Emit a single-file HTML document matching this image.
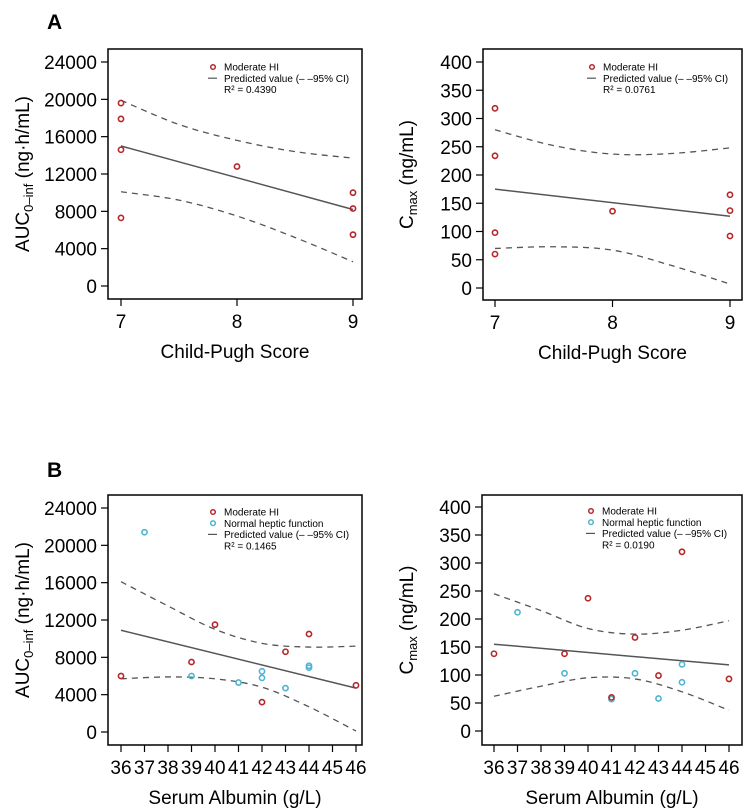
<!DOCTYPE html>
<html><head><meta charset="utf-8"><style>
html,body{margin:0;padding:0;background:#fff;}
svg{display:block;font-family:"Liberation Sans",Arial,sans-serif;}
</style></head><body>
<svg id="fig" width="745" height="808" viewBox="0 0 745 808" xmlns="http://www.w3.org/2000/svg">
<text x="47" y="29" font-size="21" font-weight="bold">A</text>
<text x="47" y="477" font-size="21" font-weight="bold">B</text>
</svg>
<script>
// Panel A-left: AUC vs Child-Pugh
const aLeftModX=[7,7,7,7,8,9,9,9];
const aLeftModY=[19600,17900,14600,7300,12800,10000,8300,5500];
const aLeftFitX=[7,9];
const aLeftFitY=[15000,8200];
const aLeftCiX=[7,7.5,8,8.5,9];
const aLeftCiUp=[19900,17300,15600,14400,13700];
const aLeftCiLo=[10100,9200,7500,5200,2600];
// Panel A-right: Cmax vs Child-Pugh
const aRightModX=[7,7,7,7,8,9,9,9];
const aRightModY=[318,234,98,60,136,165,137,92];
const aRightFitX=[7,9];
const aRightFitY=[175,127];
const aRightCiX=[7,7.5,8,8.5,9];
const aRightCiUp=[280,252,237,238,248];
const aRightCiLo=[70,73,67,40,7];
// Panel B-left: AUC vs Albumin
const bLeftModX=[36,39,40,42,43,44,46];
const bLeftModY=[6000,7500,11500,3200,8600,10500,5000];
const bLeftNorX=[37,39,41,42,42,43,44,44];
const bLeftNorY=[21400,6000,5300,6500,5800,4700,7100,6900];
const bLeftFitX=[36,46];
const bLeftFitY=[10900,4700];
const bLeftCiX=[36,38,40,42,44,46];
const bLeftCiUp=[16100,13500,11000,9500,9100,9200];
const bLeftCiLo=[5700,5900,5700,4800,2700,100];
// Panel B-right: Cmax vs Albumin
const bRightModX=[36,39,40,41,42,43,44,46];
const bRightModY=[138,138,237,60,167,99,320,93];
const bRightNorX=[37,39,41,42,43,44,44];
const bRightNorY=[212,103,57,103,58,119,87];
const bRightFitX=[36,46];
const bRightFitY=[155,118];
const bRightCiX=[36,38,40,42,44,46];
const bRightCiUp=[245,215,183,173,180,197];
const bRightCiLo=[62,80,95,93,70,37];

const yTicksAuc=[0,4000,8000,12000,16000,20000,24000];
const yTicksCmax=[0,50,100,150,200,250,300,350,400];
const xTicksCP=[7,8,9];
const xTicksAlb=[36,37,38,39,40,41,42,43,44,45,46];

const NS="http://www.w3.org/2000/svg";
const svg=document.getElementById('fig');
function mk(tag,attrs,parent){const e=document.createElementNS(NS,tag);for(const k in attrs)e.setAttribute(k,attrs[k]);(parent||svg).appendChild(e);return e;}
const RED="#b5262a", CYAN="#4db4d1", GREY="#555";

function smoothPath(pts){
  let d="M"+pts[0][0]+","+pts[0][1];
  for(let i=0;i<pts.length-1;i++){
    const p0=pts[Math.max(0,i-1)],p1=pts[i],p2=pts[i+1],p3=pts[Math.min(pts.length-1,i+2)];
    const c1=[p1[0]+(p2[0]-p0[0])/6,p1[1]+(p2[1]-p0[1])/6];
    const c2=[p2[0]-(p3[0]-p1[0])/6,p2[1]-(p3[1]-p1[1])/6];
    d+=" C"+c1[0]+","+c1[1]+" "+c2[0]+","+c2[1]+" "+p2[0]+","+p2[1];
  }
  return d;
}

function panel(o){
  const g=mk('g',{});
  
  
  const xs=v=>o.px0+(v-o.xmin)/(o.xmax-o.xmin)*(o.px1-o.px0);
  const ys=v=>o.py0+(v-o.ymin)/(o.ymax-o.ymin)*(o.py1-o.py0);
  const box=mk('rect',{x:o.bx0,y:o.by0,width:o.bx1-o.bx0,height:o.by1-o.by0,fill:'none',stroke:'#000','stroke-width':1.5},g);
  
  
  o.yt.forEach(t=>{
    const y=ys(t);
    mk('line',{x1:o.bx0-7,x2:o.bx0,y1:y,y2:y,stroke:'#000','stroke-width':1.2},g);
    const tx=mk('text',{x:o.bx0-11,y:y+7,'font-size':19,'text-anchor':'end'},g);
    tx.textContent=t;
    
    
  });
  o.xt.forEach(t=>{
    const x=xs(t);
    mk('line',{x1:x,x2:x,y1:o.by1,y2:o.by1+7,stroke:'#000','stroke-width':1.2},g);
    const tx=mk('text',{x:x,y:o.by1+29,'font-size':19,'text-anchor':'middle'},g);
    tx.textContent=t;
    
    
  });
  const xt=mk('text',{x:(o.bx0+o.bx1)/2,y:o.by1+59,'font-size':19,'text-anchor':'middle'},g);
  xt.textContent=o.xtitle;
  
  
  const yc=(o.by0+o.by1)/2;
  const yt=mk('text',{x:o.ytx,y:yc,'font-size':19,'text-anchor':'middle',transform:`rotate(-90 ${o.ytx} ${yc})`},g);
  yt.innerHTML=o.ytitle;
  
  
  // CI
  [o.ciUp,o.ciLo].forEach((arr,k)=>{
    const p=mk('path',{d:smoothPath(o.ciX.map((v,i)=>[xs(v),ys(arr[i])])),fill:'none',stroke:GREY,'stroke-width':1.3,'stroke-dasharray':'6,5'},g);
    
    
  });
  const fl=mk('line',{x1:xs(o.fitX[0]),y1:ys(o.fitY[0]),x2:xs(o.fitX[1]),y2:ys(o.fitY[1]),stroke:GREY,'stroke-width':1.5},g);
  
  
  const pts=(X,Y,c,nm)=>X.forEach((v,i)=>{
    const c0=mk('circle',{cx:xs(v),cy:ys(Y[i]),r:2.6,fill:'none',stroke:c,'stroke-width':1.6},g);
    
    
  });
  if(o.norX) pts(o.norX,o.norY,CYAN,'normal-point');
  pts(o.modX,o.modY,RED,'moderate-point');
  // legend
  let ly=o.ly;
  const lg=mk('g',{},g);
  
  
  const row=(sym,text)=>{
    if(sym==='line') mk('line',{x1:o.lx-5,x2:o.lx+4,y1:ly,y2:ly,stroke:GREY,'stroke-width':1.2},lg);
    else if(sym) mk('circle',{cx:o.lx,cy:ly,r:2.3,fill:'none',stroke:sym,'stroke-width':1.5},lg);
    const t=mk('text',{x:o.lx+11,y:ly+3.7,'font-size':10},lg);
    t.innerHTML=text;
    
    
    ly+=11.2;
  };
  row(RED,'Moderate HI');
  if(o.norX) row(CYAN,'Normal heptic function');
  row('line','Predicted value (– –95% CI)');
  row(null,o.r2);
}
const aucT='AUC<tspan font-size="13" dy="4">0–inf</tspan><tspan dy="-4"> (ng·h/mL)</tspan>';
const cmT='C<tspan font-size="13" dy="4">max</tspan><tspan dy="-4"> (ng/mL)</tspan>';
panel({name:'panel-a-auc',bx0:108,bx1:362,by0:49,by1:299,px0:121,px1:353,xmin:7,xmax:9,py0:286,py1:62,ymin:0,ymax:24000,
 yt:yTicksAuc,xt:xTicksCP,xtitle:'Child-Pugh Score',ytitle:aucT,ytx:29,
 modX:aLeftModX,modY:aLeftModY,fitX:aLeftFitX,fitY:aLeftFitY,ciX:aLeftCiX,ciUp:aLeftCiUp,ciLo:aLeftCiLo,lx:213,ly:67,r2:'R² = 0.4390'});
panel({name:'panel-a-cmax',bx0:483,bx1:742,by0:49,by1:300,px0:495,px1:730,xmin:7,xmax:9,py0:288,py1:62,ymin:0,ymax:400,
 yt:yTicksCmax,xt:xTicksCP,xtitle:'Child-Pugh Score',ytitle:cmT,ytx:413,
 modX:aRightModX,modY:aRightModY,fitX:aRightFitX,fitY:aRightFitY,ciX:aRightCiX,ciUp:aRightCiUp,ciLo:aRightCiLo,lx:592,ly:67,r2:'R² = 0.0761'});
panel({name:'panel-b-auc',bx0:108,bx1:362,by0:495,by1:745,px0:121,px1:356,xmin:36,xmax:46,py0:732,py1:508,ymin:0,ymax:24000,
 yt:yTicksAuc,xt:xTicksAlb,xtitle:'Serum Albumin (g/L)',ytitle:aucT,ytx:29,
 modX:bLeftModX,modY:bLeftModY,norX:bLeftNorX,norY:bLeftNorY,fitX:bLeftFitX,fitY:bLeftFitY,ciX:bLeftCiX,ciUp:bLeftCiUp,ciLo:bLeftCiLo,lx:213,ly:512,r2:'R² = 0.1465'});
panel({name:'panel-b-cmax',bx0:482,bx1:742,by0:495,by1:745,px0:494,px1:729,xmin:36,xmax:46,py0:731,py1:507,ymin:0,ymax:400,
 yt:yTicksCmax,xt:xTicksAlb,xtitle:'Serum Albumin (g/L)',ytitle:cmT,ytx:413,
 modX:bRightModX,modY:bRightModY,norX:bRightNorX,norY:bRightNorY,fitX:bRightFitX,fitY:bRightFitY,ciX:bRightCiX,ciUp:bRightCiUp,ciLo:bRightCiLo,lx:591,ly:511,r2:'R² = 0.0190'});
</script>
</body></html>
